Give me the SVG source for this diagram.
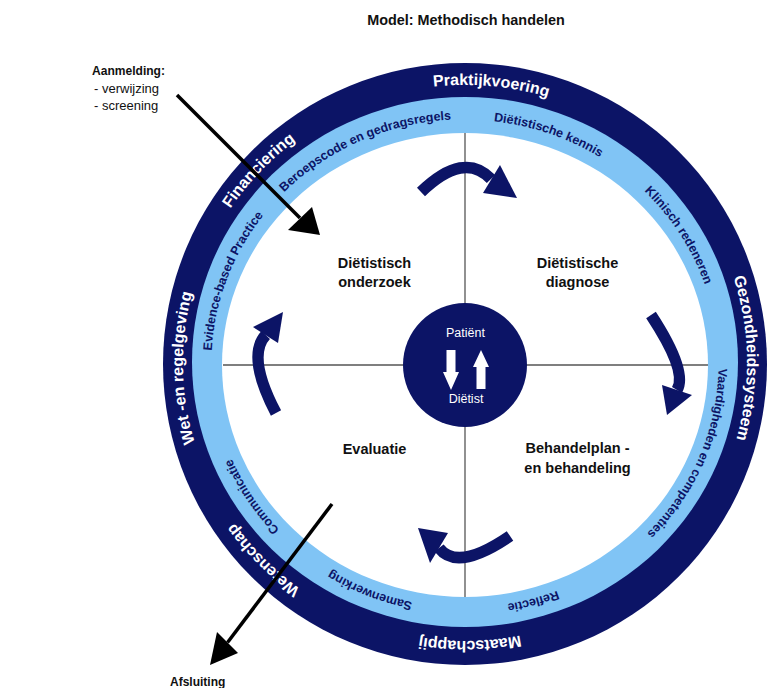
<svg xmlns="http://www.w3.org/2000/svg" width="769" height="688" viewBox="0 0 769 688">
  <style>
    .navy { fill: #0c1466; }
    .light { fill: #80c4f5; }
    .axis { stroke: #555555; stroke-width: 1.3; fill: none; }
    .outer-txt { font-family: "Liberation Sans", Arial, sans-serif; font-weight: bold; font-size: 16px; fill: #ffffff; }
    .inner-txt { font-family: "Liberation Sans", Arial, sans-serif; font-weight: bold; font-size: 12.5px; fill: #0c1466; }
    .step { font-family: "Liberation Sans", Arial, sans-serif; font-weight: bold; font-size: 14.5px; fill: #111111; text-anchor: middle; }
    .label { font-family: "Liberation Sans", Arial, sans-serif; fill: #111111; }
    .core { font-family: "Liberation Sans", Arial, sans-serif; font-size: 12.5px; fill: #ffffff; text-anchor: middle; }
    .cyc { fill: none; stroke: #0c1466; stroke-width: 11.5; stroke-linecap: butt; }
    .cyc-head { fill: #0c1466; }
    .flow { fill: none; stroke: #000000; stroke-width: 3.5; }
    .flow-head { fill: #000000; }
  </style>
  <defs>
    <!-- baselines for the outer (dark) ring labels, all running clockwise -->
    <path id="p-prak" d="M193.1,289.2 A282,278 0 0 1 746.1,340.7"/>
    <path id="p-fin" d="M239.8,530.3 A282,278 0 0 1 618.6,129.8"/>
    <path id="p-wet" d="M420.9,637.6 A282,278 0 0 1 411.2,90.1"/>
    <path id="p-gez" d="M509.1,88.4 A282,278 0 0 1 518.8,635.9"/>
    <path id="p-wetsch" d="M623.9,592.7 A282,278 0 0 1 236.0,200.8"/>
    <path id="p-maat" d="M743.5,406.5 A282,278 0 0 1 188.2,416.0"/>
    <!-- baselines for the inner (light) ring labels -->
    <path id="p-ber" d="M220.1,426.6 A253.5,244 0 0 1 672.7,223.5"/>
    <path id="p-ken" d="M245.5,241.5 A253.5,244 0 0 1 714.6,405.9"/>
    <path id="p-kli" d="M374.1,135.7 A253.5,244 0 0 1 631.3,547.6"/>
    <path id="p-vaa" d="M599.3,156.6 A253.5,244 0 0 1 412.3,602.2"/>
    <path id="p-ref" d="M717.1,338.0 A253.5,244 0 0 1 237.2,470.5"/>
    <path id="p-sam" d="M678.3,495.3 A253.5,244 0 0 1 217.7,309.9"/>
    <path id="p-com" d="M560.0,589.7 A253.5,244 0 0 1 295.4,182.2"/>
    <path id="p-evi" d="M339.8,575.7 A253.5,244 0 0 1 507.3,122.9"/>
  </defs>

  <rect width="769" height="688" fill="#ffffff"/>

  <text class="label" x="466" y="25" font-size="14.4" font-weight="bold" text-anchor="middle">Model: Methodisch handelen</text>

  <!-- context rings -->
  <g id="ring-context">
    <ellipse class="navy" cx="465" cy="364" rx="302" ry="301"/>
    <text class="outer-txt" font-size="15"><textPath href="#p-prak" startOffset="50%" text-anchor="middle">Praktijkvoering</textPath></text>
    <text class="outer-txt"><textPath href="#p-fin" startOffset="50%" text-anchor="middle">Financiering</textPath></text>
    <text class="outer-txt"><textPath href="#p-wet" startOffset="50%" text-anchor="middle">Wet -en regelgeving</textPath></text>
    <text class="outer-txt"><textPath href="#p-gez" startOffset="50%" text-anchor="middle">Gezondheidssysteem</textPath></text>
    <text class="outer-txt"><textPath href="#p-wetsch" startOffset="50%" text-anchor="middle">Wetenschap</textPath></text>
    <text class="outer-txt"><textPath href="#p-maat" startOffset="50%" text-anchor="middle">Maatschappij</textPath></text>
  </g>

  <g id="ring-professional">
    <ellipse class="light" cx="465" cy="362" rx="273" ry="265"/>
    <text class="inner-txt"><textPath href="#p-ber" startOffset="50%" text-anchor="middle">Beroepscode en gedragsregels</textPath></text>
    <text class="inner-txt"><textPath href="#p-ken" startOffset="50%" text-anchor="middle">Diëtistische kennis</textPath></text>
    <text class="inner-txt"><textPath href="#p-kli" startOffset="50%" text-anchor="middle">Klinisch redeneren</textPath></text>
    <text class="inner-txt"><textPath href="#p-vaa" startOffset="50%" text-anchor="middle">Vaardigheden en competenties</textPath></text>
    <text class="inner-txt"><textPath href="#p-ref" startOffset="50%" text-anchor="middle">Reflectie</textPath></text>
    <text class="inner-txt"><textPath href="#p-sam" startOffset="50%" text-anchor="middle">Samenwerking</textPath></text>
    <text class="inner-txt"><textPath href="#p-com" startOffset="50%" text-anchor="middle">Communicatie</textPath></text>
    <text class="inner-txt"><textPath href="#p-evi" startOffset="50%" text-anchor="middle">Evidence-based Practice</textPath></text>
  </g>

  <g id="field">
    <ellipse cx="465" cy="365" rx="243" ry="232" fill="#ffffff"/>
    <line class="axis" x1="465" y1="133" x2="465" y2="597"/>
    <line class="axis" x1="223" y1="365" x2="708" y2="365"/>
  </g>

  <!-- the four process steps -->
  <g id="step-onderzoek">
    <text class="step" x="374.5" y="268">Diëtistisch</text>
    <text class="step" x="374.5" y="287">onderzoek</text>
  </g>
  <g id="step-diagnose">
    <text class="step" x="577.5" y="268">Diëtistische</text>
    <text class="step" x="577.5" y="287">diagnose</text>
  </g>
  <g id="step-behandeling">
    <text class="step" x="577.5" y="453">Behandelplan -</text>
    <text class="step" x="577.5" y="473">en behandeling</text>
  </g>
  <g id="step-evaluatie">
    <text class="step" x="374.5" y="454">Evaluatie</text>
  </g>

  <!-- patient / dietitian core -->
  <g id="core">
    <circle class="navy" cx="465" cy="365" r="62"/>
    <text class="core" x="465.5" y="337">Patiënt</text>
    <text class="core" x="466" y="403">Diëtist</text>
    <polygon fill="#ffffff" points="446.5,350 455.5,350 455.5,372 459,372 451,390 443,372 446.5,372"/>
    <polygon fill="#ffffff" points="476.5,389 485.5,389 485.5,367 489,367 481,350 473,367 476.5,367"/>
  </g>

  <g id="start-label">
    <text class="label" x="92" y="75" font-size="13" font-weight="bold" textLength="73" lengthAdjust="spacingAndGlyphs">Aanmelding:</text>
    <text class="label" x="94" y="93" font-size="13">- verwijzing</text>
    <text class="label" x="94" y="110" font-size="13">- screening</text>
  </g>
  <g id="end-label">
    <text class="label" x="170" y="686" font-size="12" font-weight="bold">Afsluiting</text>
  </g>

  <g id="connectors">
    <!-- cycle between the steps -->
    <path class="cyc" d="M421,192 Q464,150.5 491,179"/>
    <polygon class="cyc-head" points="500,165 517,198 483,193"/>
    <path class="cyc" d="M651,315 Q688,371.5 677,390"/>
    <polygon class="cyc-head" points="662,385 692,395 667,415"/>
    <path class="cyc" d="M510,536 Q457.5,572 439,548"/>
    <polygon class="cyc-head" points="418,528 448,533 430,563"/>
    <path class="cyc" d="M276,413 Q246.2,356 265.7,335"/>
    <polygon class="cyc-head" points="253,327 283,312 278,343"/>
    <!-- entry and exit -->
    <path class="flow" d="M177,95 L300,218"/>
    <polygon class="flow-head" points="288,230 312,207 320,235"/>
    <path class="flow" d="M332,504 L227.5,642.5"/>
    <polygon class="flow-head" points="217,632 238,653 210,665"/>
  </g>
</svg>
